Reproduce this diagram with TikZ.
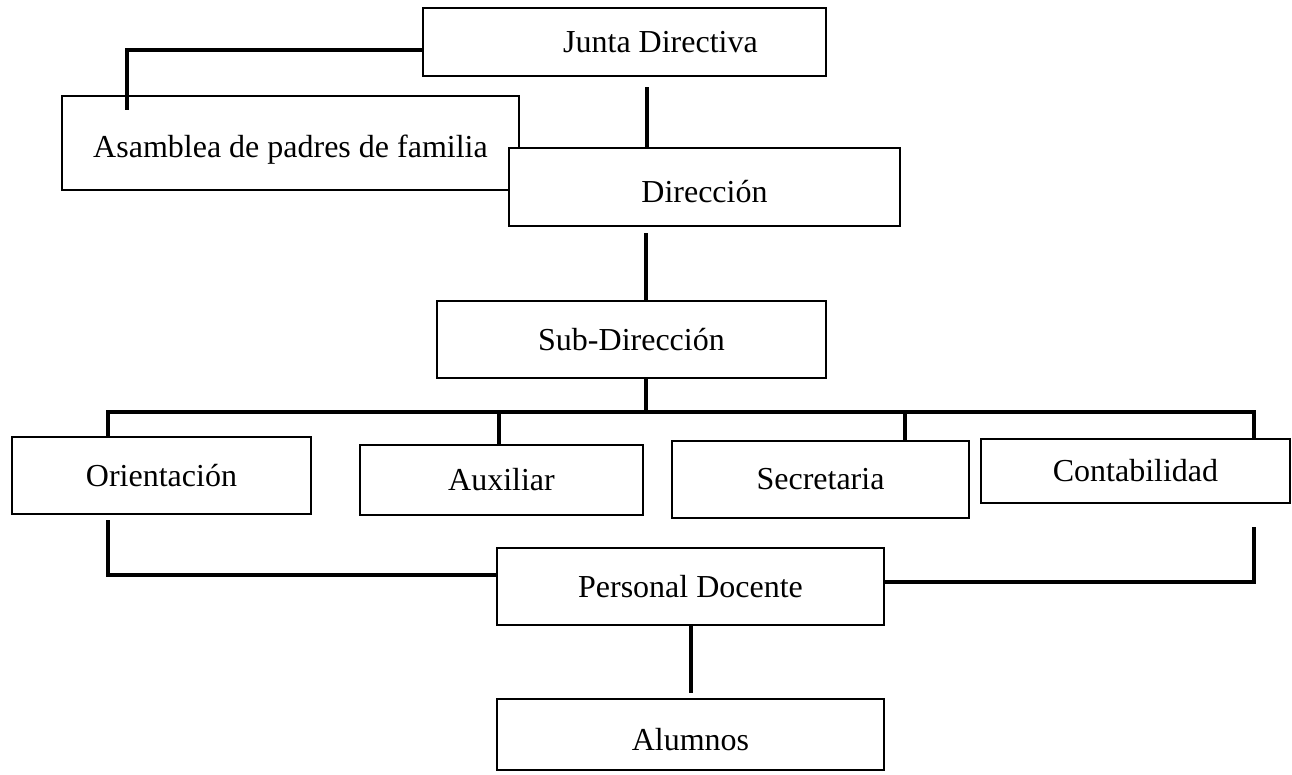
\documentclass[tikz,border=0pt]{standalone}
\usepackage{fontspec}
\setmainfont{Liberation Serif}
\usepackage{tikz}
\usetikzlibrary{calc}

\begin{document}
\begin{tikzpicture}[
    x=0.5pt, y=-0.5pt,
    rectnode/.style={rectangle, draw=black, fill=white, line width=1.4pt, inner sep=0pt, font=\fontsize{16}{19}\selectfont},
    linkline/.style={draw=black, line width=2pt}
]
\useasboundingbox (0,0) rectangle (1292,775);
\node[rectnode, minimum width=201.5pt, minimum height=34pt](junta) at (624.5,42){\hspace*{36pt}Junta Directiva};
\node[rectnode, minimum width=228.5pt, minimum height=47pt, text height=18pt, text depth=3.5pt](asamblea) at (290.5,143){Asamblea de padres de familia};
\node[rectnode, minimum width=195.5pt, minimum height=39pt, text height=16pt, text depth=0pt](direccion) at (704.5,187){Dirección};
\node[rectnode, minimum width=194.5pt, minimum height=38.5pt](subdir) at (631.5,339.5){Sub-Dirección};
\node[rectnode, minimum width=149.5pt, minimum height=38.5pt](orient) at (161.5,475.5){Orientación};
\node[rectnode, minimum width=141.5pt, minimum height=35pt](auxil) at (501.5,480){Auxiliar};
\node[rectnode, minimum width=148.5pt, minimum height=38.5pt](secret) at (820.5,479.5){Secretaria};
\node[rectnode, minimum width=154.5pt, minimum height=32pt](contab) at (1135.5,471){Contabilidad};
\node[rectnode, minimum width=193.5pt, minimum height=38.5pt](docente) at (690.5,586.5){Personal Docente};
\node[rectnode, minimum width=193.5pt, minimum height=35.5pt, text height=16pt, text depth=0pt](alumnos) at (690.5,734.5){Alumnos};

% upper links
\draw[linkline] ([yshift=-4pt]junta.west) -| ([xshift=33pt,yshift=-7.5pt]asamblea.north west);
\coordinate (j1) at ($(junta.south)+(22,10)$);
\draw[linkline] (j1) -- (j1 |- direccion.north);
\coordinate (s1) at ($(subdir.north)+(14,0)$);
\draw[linkline] (s1) -- ([yshift=-3pt]s1 |- direccion.south);

% bus to the four offices
\coordinate (bus) at ($(subdir.south)+(14,33)$);
\draw[linkline] (bus |- subdir.south) -- (bus);
\draw[linkline] (bus) -| ([xshift=-27pt]orient.north);
\draw[linkline] (bus) -| ([xshift=-1.25pt]auxil.north);
\draw[linkline] (bus) -| ([xshift=42pt]secret.north);
\draw[linkline] (bus) -| ([xshift=59.25pt]contab.north);

% lower links
\draw[linkline] ([xshift=-27pt,yshift=-2.5pt]orient.south) |- ([yshift=5.75pt]docente.west);
\draw[linkline] ([xshift=59.25pt,yshift=-11.5pt]contab.south) |- ([yshift=2.25pt]docente.east);
\draw[linkline] (docente.south) -- ([yshift=2.5pt]alumnos.north);
\end{tikzpicture}
\end{document}
